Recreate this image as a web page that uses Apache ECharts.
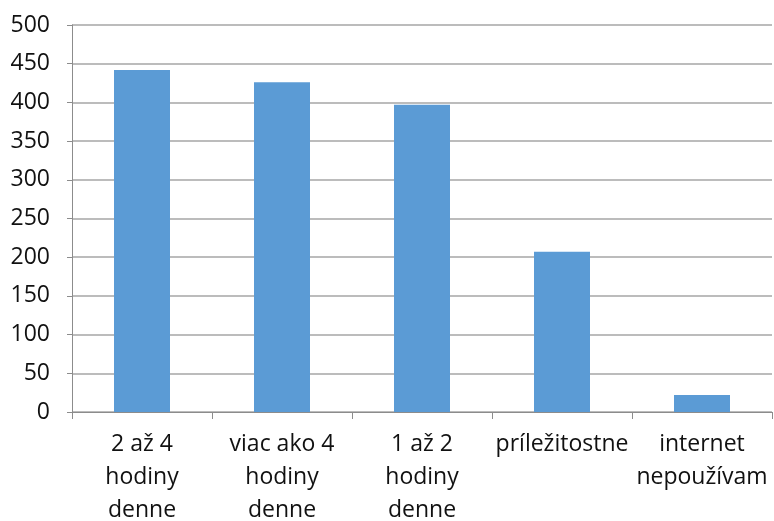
<!DOCTYPE html>
<html>
<head>
<meta charset="utf-8">
<script src="https://cdn.jsdelivr.net/npm/echarts@6/dist/echarts.min.js"></script>
<style>html,body{margin:0;padding:0;background:#fff}#c{width:774px;height:521px}</style>
</head>
<body>
<div id="c"></div>
<script>
const categories = ["2 až 4\nhodiny\ndenne", "viac ako 4\nhodiny\ndenne", "1 až 2\nhodiny\ndenne", "príležitostne", "internet\nnepoužívam"];
const values = [442, 426, 397, 207, 22];
const yTicks = {min: 0, max: 500, interval: 50};

const chart = echarts.init(document.getElementById('c'));
chart.setOption({
  animation: false,
  grid: {left: 72, right: 2, top: 25, bottom: 109, containLabel: false, outerBoundsMode: 'none'},
  xAxis: {
    type: 'category',
    data: categories,
    axisLine: {lineStyle: {color: '#8c8c8c', width: 1}},
    axisTick: {show: true, length: 7, lineStyle: {color: '#8c8c8c'}},
    axisLabel: {color: '#111', fontFamily: 'Open Sans', fontSize: 23, lineHeight: 33, margin: 16, interval: 0}
  },
  yAxis: {
    type: 'value',
    min: yTicks.min, max: yTicks.max, interval: yTicks.interval,
    axisLine: {show: true, lineStyle: {color: '#8c8c8c', width: 1}},
    axisTick: {show: true, length: 5, lineStyle: {color: '#8c8c8c'}},
    splitLine: {show: true, lineStyle: {color: '#a6a6a6', width: 1.5}},
    axisLabel: {color: '#111', fontFamily: 'Open Sans', fontSize: 23, margin: 22}
  },
  series: [{
    type: 'bar',
    data: values,
    barWidth: '40%',
    itemStyle: {color: '#5b9bd5'}
  }]
});
</script>
</body>
</html>
